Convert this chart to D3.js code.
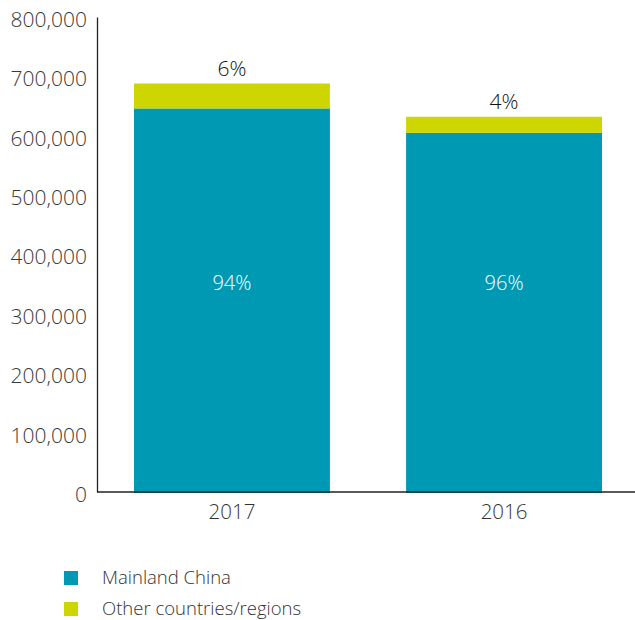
<!DOCTYPE html>
<html>
<head>
<meta charset="utf-8">
<script src="https://cdn.jsdelivr.net/npm/d3@7"></script>
<style>
body { margin: 0; background: #fff; }
text { font-family: "Open Sans", sans-serif; }
</style>
</head>
<body>
<script>
var years = ["2017", "2016"]
var mainland = [646000, 605000]
var other = [42000, 27000]
var mainlandPct = ["94%", "96%"]
var otherPct = ["6%", "4%"]
var yTicks = [0, 100000, 200000, 300000, 400000, 500000, 600000, 700000, 800000]
var seriesNames = ["Mainland China", "Other countries/regions"]
var colors = ["#0099b4", "#cdd600"]

var width = 635, height = 620
var mLeft = 97, mRight = 635, mTop = 17, mBottom = 492

var svg = d3.select("body").append("svg")
	.attr("width", width)
	.attr("height", height)

var x = d3.scaleBand().domain(years).range([mLeft, 639]).paddingInner(0.28).paddingOuter(0.136)
var y = d3.scaleLinear().domain([0, 800000]).range([mBottom, mTop])

var rows = years.map(function(yr, i) {
	return {year: yr, mainland: mainland[i], other: other[i], mp: mainlandPct[i], op: otherPct[i]}
})

// mainland bars
svg.selectAll("rect.main").data(rows).enter().append("rect")
	.attr("x", function(d) { return x(d.year) })
	.attr("width", x.bandwidth())
	.attr("y", function(d) { return y(d.mainland) })
	.attr("height", function(d) { return y(0) - y(d.mainland) + 1 })
	.attr("fill", colors[0])

// other bars
svg.selectAll("rect.oth").data(rows).enter().append("rect")
	.attr("x", function(d) { return x(d.year) })
	.attr("width", x.bandwidth())
	.attr("y", function(d) { return y(d.mainland + d.other) })
	.attr("height", function(d) { return y(d.mainland) - y(d.mainland + d.other) })
	.attr("fill", colors[1])

// labels inside
svg.selectAll("text.in").data(rows).enter().append("text")
	.attr("x", function(d) { return x(d.year) + x.bandwidth() / 2 })
	.attr("y", 290)
	.attr("text-anchor", "middle")
	.attr("font-size", 20)
	.attr("font-weight", 300)
	.attr("fill", "#fff")
	.text(function(d) { return d.mp })

svg.selectAll("text.top").data(rows).enter().append("text")
	.attr("x", function(d) { return x(d.year) + x.bandwidth() / 2 })
	.attr("y", function(d) { return y(d.mainland + d.other) - 8 })
	.attr("text-anchor", "middle")
	.attr("font-size", 21)
	.attr("font-weight", 300)
	.attr("fill", "#111")
	.text(function(d) { return d.op })

// y axis
var yAxis = svg.append("g")
	.attr("transform", "translate(" + mLeft + ",0)")
	.call(d3.axisLeft(y).tickValues(yTicks).tickSize(0).tickPadding(10).tickFormat(d3.format(",")))
yAxis.select(".domain").attr("stroke", "#222").attr("stroke-width", 1.3)
yAxis.selectAll("text")
	.attr("font-size", 21)
	.attr("font-weight", 300)
	.attr("fill", "#3a3a3a")
	.attr("font-family", "Open Sans")
	.attr("dy", "0.45em")

// x axis
var xAxis = svg.append("g")
	.attr("transform", "translate(0," + mBottom + ")")
	.call(d3.axisBottom(x).tickSize(0).tickPadding(12))
xAxis.select(".domain").attr("d", "M" + mLeft + ",0H" + mRight).attr("stroke", "#222").attr("stroke-width", 1.3)
xAxis.selectAll("text")
	.attr("font-size", 20.5)
	.attr("font-weight", 300)
	.attr("fill", "#333")
	.attr("font-family", "Open Sans")

// legend
var legend = svg.selectAll("g.leg").data(seriesNames).enter().append("g")
	.attr("transform", function(d, i) { return "translate(64," + (571 + i * 31) + ")" })
legend.append("rect")
	.attr("width", 14).attr("height", 14)
	.attr("fill", function(d, i) { return colors[i] })
legend.append("text")
	.attr("x", 38).attr("y", 7)
	.attr("dy", "0.35em")
	.attr("font-size", 18.5)
	.attr("font-weight", 300)
	.attr("fill", "#333")
	.text(function(d) { return d })
</script>
</body>
</html>
